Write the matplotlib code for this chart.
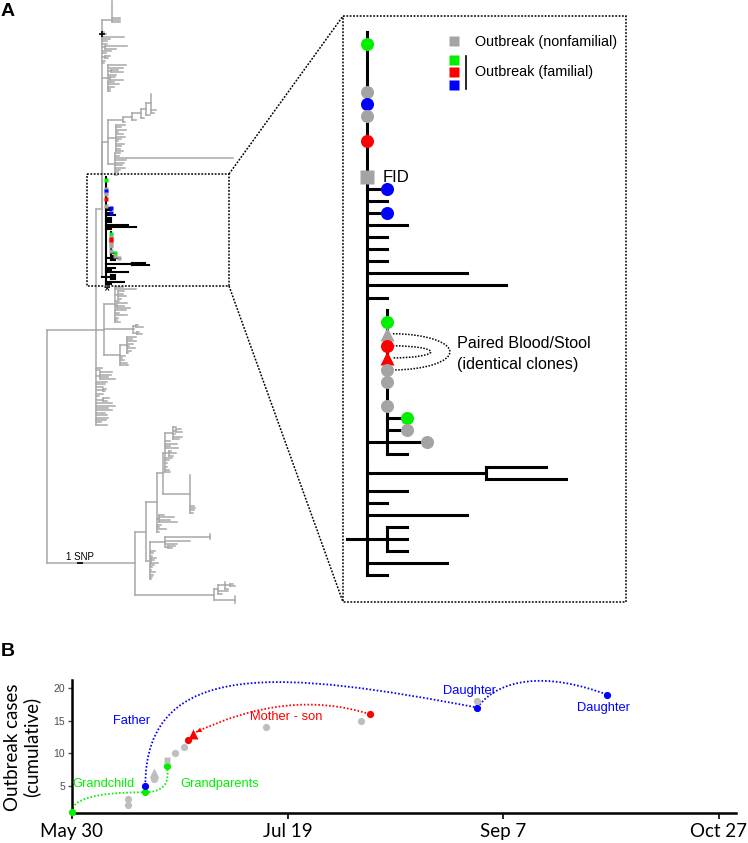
import matplotlib
matplotlib.use('Agg')
import matplotlib.pyplot as plt
from matplotlib.collections import LineCollection
from matplotlib.patches import Rectangle, Arc, PathPatch
from matplotlib.path import Path

plt.rcParams['font.family'] = ['Liberation Sans', 'DejaVu Sans']

W, H = 748, 843
GREEN, RED, BLUE = '#00f000', '#ff0000', '#0000ff'
GREY_TREE = '#a8a8a8'
GREY_DOT = '#a4a4a4'
GREY_B = '#bebebe'


def node(length, kids, anchor=None, name=None):
    return {'len': length, 'kids': kids, 'anchor': anchor, 'name': name}


# ---------------- panel A: tree, branch lengths in SNPs ----------------
# a bare number is an unmarked tip, (length, code) is a marked tip
T1 = node(2.3, [0, 0, 0, 0, 0, 0, 0, 1.8, 1.9, 1.8], anchor=8)
T_COMB = [0, 0, 0, 0.5, 1.0, 5.1, 1.9, 1.2, 1.2, node(0.6, [5.2, 2.6]), 2.0, 1.0,
          node(0.8, [1.0, 0.5]), 0.7, 0.4]
C2 = node(1.3, [4.2, 3.6, node(0.8, [1.5, 2.8]), 2.0, node(0.6, [1.2, 3.0]),
                1.5, 2.7, 1.4, 0.6, 0.5])
LADDER = node(3.5, [node(2.1, [node(2.1, [node(1.2, [node(1.0, [0, 0, 0, 0, 0, 0, 0, 1.2, 0.8]),
                                                     0.8]), 0.6]), 0.8]), 0.5])
C3A = node(1.9, [2.0, 1.0, 2.2, 0.5, 1.5, 2.0, 1.0, 0.5, 1.8, 1.2, 0.8, 1.5])
C3B = node(1.7, [1.0, 0.8, 27.4, 2.5, 2.0, 1.5, 2.3, 1.0, 0.5, 0.3])

# outbreak subtree (shown in the inset)
SUB_A = node(1, [0, (0, 'g'), (0, 'kt'), (0, 'r'), (0, 'rt'), (0, 'k'), (0, 'k'), 0,
                 (0, 'k'), (1, 'g'), (1, 'k'), (2, 'k'), 1], anchor=11, name='A')
SUB_B = node(6, [3, 4])
SUB_C = node(1, [1, 1, 1])
S = node(1, [0, (0, 'g'), 0, 0, 0, (0, 'k'), (0, 'b'), (0, 'k'), 0, (0, 'r'), 0, 0, (0, 'ks'),
             (1, 'b'), 1, (1, 'b'), 2, 1, 1, 1, 5, 7, 1,
             SUB_A, SUB_B, 2, 1, 5, SUB_C, 4, 1], anchor=28, name='S')
PAIRED = [(2, 5), (3, 4)]  # tips of SUB_A: blood/stool pairs

C3 = node(1.4, [LADDER, C3A, C3B])
T = node(1.3, [T1] + T_COMB + [C2, node(0, [C3, S])], anchor=-1, name='T')

D1 = node(2.5, [1.8, 5.0, node(0.6, [1.5, 1.2, 2.0, 0.8]), 1.0, node(0.5, [2.2, 1.5, 3.0]),
                2.5, 1.0, 2.8, 0.8, 0.5, 1.2])
D2 = node(6.8, [node(0.6, [0.5, 1.6]), 0.2, node(0.9, [0.5, 1.2])])
D3 = node(3.7, [node(1.6, [2.0, 1.2, 2.1, 1.5, 0.5, 1.8, 1.0, 0.3]), 1.2, 0.5, 0.8, 1.5, 1.8])
D = node(1.8, [D1, D2, D3])
U_COMB = [1.2, 0.8, node(0.8, [2.8, 2.5, 2.0, 3.5]), 2.5, 2.0, 1.5, node(1.5, [0.8, 0.4]),
          1.5, 0.6, node(1.5, [1.5, 0.9]), 3.5, 4.2, 2.6, 3.5, 2.0, 2.4, 2.6, 2.2, 1.0, 2.4]
U = node(11.5, [T, D] + U_COMB, anchor=1)

L1A1_TOP = node(0.5, [node(1.8, [0.8, node(0.6, [1.2, 1.6]), 0.4, 2.0, 1.5]), 1.2, 2.8, 1.0, 3.0,
                      node(0.8, [0.6, 1.8, 1.0]), 1.5, 0.8, 0.5, 0, 0.4, 0.8, 1.2])
L1A1_BOT = node(6.3, [0, 0, 0, 0, 0, 0, 0, 0, 0, 0, 0, 0, 0, 0.8, 1.2, 1.0, 0.6])
L1A = node(2.4, [node(1.5, [L1A1_TOP, L1A1_BOT]), node(0.6, [1.0, 3.5, 2.5, 4.2]),
                 1.0, 0.5, 2.2, 0.6])
L1B = node(0.9, [node(3.5, [node(10.5, [0, 0, 0]), 5.8, 2.8, node(0.7, [1.5, 0.8])]),
                 1.2, 0.6, 0.4, node(0.3, [1.0, 0.6, 1.4]), 0.8, 0.5, 0.3, 1.0, 0.6, 0.4, 0.2])
L2 = node(18.4, [node(0.8, [node(1.8, [0, node(1.0, [0.8, 1.2]), 0.5]), 2.5, 1.0]),
                 node(4.9, [0, 0, 0, 0])])
L = node(20.5, [node(2.6, [L1A, L1B]), L2])
ROOT = node(0, [U, L])

MARKERS = {'g': ('o', GREEN), 'r': ('o', RED), 'b': ('o', BLUE), 'k': ('o', GREY_DOT),
           'ks': ('s', GREY_DOT), 'kt': ('^', GREY_DOT), 'rt': ('^', RED)}

# ---------------- panel B: outbreak timeline ----------------
DAYS = [0, 13, 13, 17, 17, 19, 19, 22, 22, 24, 26, 27, 28, 45, 67, 69, 94, 94, 124]
CASES = [1, 2, 3, 4, 5, 6, 7, 8, 9, 10, 11, 12, 13, 14, 15, 16, 17, 18, 19]
KIND = ['g', 'k', 'k', 'g', 'b', 'k', 'kt', 'g', 'ks', 'k', 'k', 'r', 'rt', 'k', 'k', 'r', 'b', 'k', 'b']
TICK_DAYS = [0, 50, 100, 150]
TICK_LABELS = ['May 30', 'Jul 19', 'Sep 7', 'Oct 27']
LABELS = [('Grandchild', 7.2, 5.3, GREEN), ('Grandparents', 34.3, 5.3, GREEN),
          ('Father', 13.8, 15.0, BLUE), ('Mother - son', 49.7, 15.6, RED),
          ('Daughter', 92.1, 19.6, BLUE), ('Daughter', 123.2, 17.0, BLUE)]

# ---------------- tree layout ----------------
segs, tips, nodes = [], [], {}
row = [0]


def lay(n, x0, dark):
    if not isinstance(n, dict):
        length, mk = n if isinstance(n, tuple) else (n, '')
        y = row[0]
        row[0] += 1
        if length > 0:
            segs.append(([(x0, y), (x0 + length, y)], dark))
        tips.append((x0 + length, y, mk, dark))
        return y
    dark = dark or n['name'] == 'S'
    x = x0 + n['len']
    first = row[0]
    ys = [lay(k, x, dark) for k in n['kids']]
    y = ys[n['anchor']] if n['anchor'] is not None else (ys[0] + ys[-1]) / 2
    segs.append(([(x, min(ys)), (x, max(ys))], dark))
    if n['len'] > 0:
        segs.append(([(x0, y), (x, y)], dark))
    if n['name']:
        nodes[n['name']] = (x, y, first, row[0] - 1)
    return y


lay(ROOT, 0, False)

fig = plt.figure(figsize=(W / 100, H / 100), dpi=100)

PX_SNP, PX_ROW, X0, Y0 = 4.3, 2.38, 47, 1
ax = fig.add_axes([0, 0, 1, 1])
ax.set_xlim(-X0 / PX_SNP, (W - X0) / PX_SNP)
ax.set_ylim((H - Y0) / PX_ROW, -Y0 / PX_ROW)
ax.axis('off')
ax.add_collection(LineCollection([s for s, d in segs if not d], colors=GREY_TREE,
                                 linewidths=1.1, capstyle='projecting'))
ax.add_collection(LineCollection([s for s, d in segs if d], colors='k',
                                 linewidths=1.5, capstyle='projecting'))
for x, y, mk, d in tips:
    if mk:
        ax.plot(x, y, 's', ms=2.3, color=MARKERS[mk][1], mec='none', zorder=3)
tx, ty, _, _ = nodes['T']
ax.plot(tx, 13.9, '+', ms=5, mew=1.2, color='k')
ax.plot([7.1, 8.1], [236.1, 236.1], color='k', lw=1.3)

# inset: zoom of the outbreak subtree
sx, sy, s_first, s_last = nodes['S']
IN_L, IN_T, IN_R, IN_B = 343, 16, 626, 602
IPX_SNP, IPX_ROW, IX0, IY0 = 19.9, 12.07, 367, 32
ins = fig.add_axes([IN_L / W, 1 - IN_B / H, (IN_R - IN_L) / W, (IN_B - IN_T) / H])
ins.set_xlim(sx + (IN_L - IX0) / IPX_SNP, sx + (IN_R - IX0) / IPX_SNP)
ins.set_ylim(s_first + (IN_B - IY0) / IPX_ROW, s_first + (IN_T - IY0) / IPX_ROW)
ins.axis('off')
ins.add_collection(LineCollection([s for s, d in segs if d], colors='k',
                                  linewidths=2.2, capstyle='projecting'))
for x, y, mk, d in tips:
    if mk and d:
        m, c = MARKERS[mk]
        ins.plot(x, y, m, ms=10.5 if m == '^' else 9.4, color=c, mec='none', zorder=3)
ax_, ay_, a_first, a_last = nodes['A']
for (i, j), w in zip(PAIRED, [5.73, 3.82]):
    r0, r1 = a_first + i, a_first + j
    ins.add_patch(Arc((ax_ + 0.3, (r0 + r1) / 2), w, r1 - r0, theta1=-90, theta2=90,
                      color='k', lw=1.1, ls=(0, (1, 1))))

# overlay in figure pixels for boxes, connectors and labels
ov = fig.add_axes([0, 0, 1, 1])
ov.set_xlim(0, W)
ov.set_ylim(H, 0)
ov.axis('off')
dots = dict(color='k', lw=1.1, ls=(0, (1.2, 1)))
ov.add_patch(Rectangle((87, 174), 142, 112, fill=False, **dots))
ov.add_patch(Rectangle((IN_L, IN_T), IN_R - IN_L, IN_B - IN_T, fill=False, **dots))
ov.plot([229, IN_L], [174, IN_T], **dots)
ov.plot([229, IN_L], [286, IN_B], **dots)
ov.text(1, 12, 'A', fontsize=14, fontweight='bold', va='center')
ov.text(1, 651, 'B', fontsize=14, fontweight='bold', va='center')
ov.text(107, 292, '*', fontsize=12, ha='center', va='center')
ov.text(80, 557, '1 SNP', fontsize=7, ha='center', va='center')
for yy, c, m in [(41, GREY_DOT, 's'), (60, GREEN, 's'), (72, RED, 's'), (85, BLUE, 's')]:
    ov.plot(454, yy, m, ms=6.5, color=c, mec='none')
ov.plot([466, 466], [56, 89], color='k', lw=1.2)
ov.text(475, 42, 'Outbreak (nonfamilial)', fontsize=10.4, va='center')
ov.text(475, 72, 'Outbreak (familial)', fontsize=10.4, va='center')
ov.text(383, 177, 'FID', fontsize=12, va='center')
ov.text(457, 343, 'Paired Blood/Stool', fontsize=11.6, va='center')
ov.text(457, 364, '(identical clones)', fontsize=11.6, va='center')
ov.text(22, 747, 'Outbreak cases\n(cumulative)', family='Lato', fontsize=13.5,
        rotation=90, ha='center', va='center', linespacing=1.05)

# ---------------- panel B ----------------
bx = fig.add_axes([72 / W, 1 - 813 / H, (736 - 72) / W, (813 - 680) / H])
bx.set_xlim(0, 154)
bx.set_ylim(0.81, 21.23)
for sp in ['top', 'right']:
    bx.spines[sp].set_visible(False)
for sp in ['left', 'bottom']:
    bx.spines[sp].set_linewidth(1.8)
bx.set_xticks(TICK_DAYS)
bx.set_xticklabels(TICK_LABELS, family='Lato', fontsize=13.5)
bx.set_yticks([5, 10, 15, 20])
bx.tick_params(axis='x', length=4, width=1.2, pad=3)
bx.tick_params(axis='y', length=3, width=1, colors='#4d4d4d', labelsize=7.5, pad=2)
bx.patch.set_alpha(0)

colors_b = {'g': GREEN, 'r': RED, 'b': BLUE, 'k': GREY_B, 'ks': GREY_B, 'kt': GREY_B, 'rt': RED}
shapes_b = {'ks': ('s', 5), 'kt': ('^', 6.5), 'rt': ('^', 6.5)}
for d, c, k in zip(DAYS, CASES, KIND):
    m, ms = shapes_b.get(k, ('o', 5.2))
    bx.plot(d, c, m, ms=ms, color=colors_b[k], mec='none', zorder=4, clip_on=False)

P = list(zip(DAYS, CASES))
dot_b = dict(fc='none', lw=1.3, ls=(0, (0.9, 1.1)), zorder=2, clip_on=False)


def bez(pts, color):
    codes = [Path.MOVETO] + [Path.CURVE4 if len(pts) == 4 else Path.CURVE3] * (len(pts) - 1)
    bx.add_patch(PathPatch(Path(pts, codes), ec=color, **dot_b))


g0, g1, g2 = P[0], P[3], P[7]
bez([g0, (g0[0], g1[1]), g1], GREEN)
bez([g1, (g2[0] + 1.2, g1[1]), g2], GREEN)
b0, b1, b2 = P[4], P[16], P[18]
bez([b0, (b0[0], b0[1] + 20), (b0[0] + 33, b1[1] + 5.5), b1], BLUE)
bez([b1, (b1[0] + 5, b1[1] + 4.5), (b2[0] - 14, b2[1] + 3.5), b2], BLUE)
r0, r1 = P[15], P[12]
rc = (r0[0] - 19, r0[1] + 4)
bez([r0, rc, r1], RED)
t = 0.9
tail = ((1 - t) ** 2 * r0[0] + 2 * t * (1 - t) * rc[0] + t * t * r1[0],
        (1 - t) ** 2 * r0[1] + 2 * t * (1 - t) * rc[1] + t * t * r1[1])
bx.annotate('', xy=r1, xytext=tail,
            arrowprops=dict(arrowstyle='-|>', color=RED, lw=0.01, mutation_scale=9,
                            shrinkA=0, shrinkB=3))
for txt, d, c, col in LABELS:
    bx.text(d, c, txt, color=col, fontsize=9.3, ha='center', va='center', zorder=5)

fig.savefig('out.png', dpi=100)
